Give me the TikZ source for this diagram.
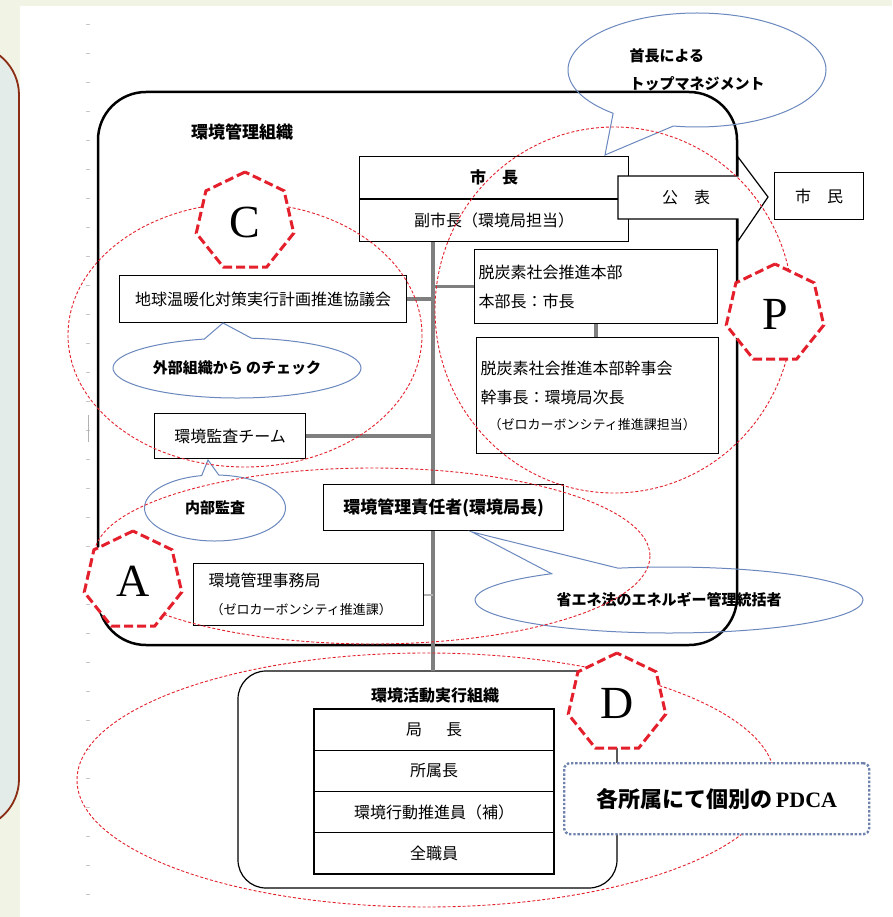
\documentclass[tikz,border=0pt]{standalone}
\usepackage{fontspec}
\setmainfont{Liberation Serif}
\newfontfamily\jp{Noto Sans CJK JP}
\usetikzlibrary{shapes.geometric,shapes.callouts}
\definecolor{pagecream}{HTML}{F1F3E5}
\definecolor{panelfill}{HTML}{E3ECE8}
\definecolor{panelrim}{HTML}{8B2C14}
\definecolor{pdcared}{HTML}{E3202C}
\definecolor{bubbleblue}{HTML}{6A88BE}
\definecolor{trunkgray}{HTML}{7F7F7F}
\definecolor{dotblue}{HTML}{6F82AE}
\tikzset{
  box/.style={draw, fill=white, line width=1.2pt, inner sep=3pt, font=\jp\fontsize{16}{29}\selectfont},
  trunk/.style={draw=trunkgray, line width=3.5pt},
  pdcaring/.style={draw=pdcared, line width=0.9pt, dash pattern=on 3pt off 2pt},
  hepta/.style={regular polygon, regular polygon sides=7, minimum size=100pt, inner sep=0pt, draw=pdcared, fill=white, line width=3pt, dash pattern=on 9pt off 4pt, font=\fontsize{46}{46}\selectfont},
  bubble/.style={ellipse callout, draw=bubbleblue, line width=1pt, inner sep=0pt, font=\jp\bfseries\fontsize{15}{28}\selectfont}
}
\begin{document}
\begin{tikzpicture}[x=1pt,y=-1pt]
\useasboundingbox (0,0) rectangle (892,917);
\fill[pagecream] (0,0) rectangle (892,917);
\fill[white] (20,6) rectangle (892,917);
\draw[panelrim, fill=panelfill, line width=1.8pt, rounded corners=50pt] (-80,45) rectangle (19,829);
\foreach \k in {0,...,30}
  \draw[black!22, line width=0.8pt] (86,{24+29*\k}) -- (90,{24+29*\k});
\draw[black!30, line width=0.6pt] (88,415) -- (88,442);

\draw[line width=2.5pt, rounded corners=48pt] (98,92) rectangle (737,645);
\node[font=\jp\bfseries\fontsize{17}{20}\selectfont] (orgtitle) at (242,132) {環境管理組織};
\draw[line width=1.2pt, rounded corners=28pt] (238,671) rectangle (617,888);
\node[font=\jp\bfseries\fontsize{16}{19}\selectfont] (acttitle) at (435,695) {環境活動実行組織};

\coordinate (trunktop) at (433,240);
\coordinate (trunkbot) at (433,671);
\draw[trunk] (trunktop) -- (trunkbot);

\node[box, minimum width=269pt, minimum height=42pt, anchor=north west] (mayor) at (359,156) {\bfseries 市　長};
\node[box, minimum width=269pt, minimum height=42pt, anchor=north] (vice) at (mayor.south) {副市長（環境局担当）};
\node[box, minimum width=287pt, minimum height=47pt, anchor=north west] (council) at (119,275) {地球温暖化対策実行計画推進協議会};
\node[box, minimum width=243pt, minimum height=74pt, anchor=north west, text width=235pt, align=left] (hq) at (474,249) {脱炭素社会推進本部\\本部長：市長};
\node[box, minimum width=242pt, minimum height=116pt, anchor=north west, text width=234pt, align=left] (exec) at (476,337) {脱炭素社会推進本部幹事会\\幹事長：環境局次長\\[-3pt]{\fontsize{13}{15}\selectfont\hspace*{8pt}（ゼロカーボンシティ推進課担当）}};
\node[box, minimum width=151pt, minimum height=45pt, anchor=north west] (audit) at (154,413) {環境監査チーム};
\node[box, minimum width=240pt, minimum height=46pt, anchor=north west, font=\jp\bfseries\fontsize{17}{20}\selectfont] (chief) at (323,484) {環境管理責任者(環境局長)};
\node[box, minimum width=230pt, minimum height=62pt, anchor=north west, text width=200pt, align=left] (office) at (193,563) {環境管理事務局\\[-1pt]{\fontsize{13}{15}\selectfont\hspace*{2pt}（ゼロカーボンシティ推進課）}};
\node[box, minimum width=89pt, minimum height=47pt, anchor=north west] (citizen) at (774,172) {市　民};
\foreach \t [count=\i] in {局\hspace{24pt}長, 所属長, 環境行動推進員（補）, 全職員}
  \node[box, minimum width=240pt, minimum height=41.25pt] (rank\i) at (434,{709+41.25*\i-20.625}) {\t};

\draw[trunk] (council.east) -- (council.east -| trunktop);
\draw[trunk] (hq.west) -- (hq.west -| trunktop);
\draw[trunk] (hq.south) -- (hq.south |- exec.north);
\draw[trunk] (audit.east) -- (audit.east -| trunktop);
\draw[trunk, draw=trunkgray!60, line width=2pt] (office.east) -- (office.east -| trunktop);

\draw[fill=white, line width=1.2pt] (618,176) -- (738,176) -- (738,157) -- (768,197) -- (738,241) -- (738,219) -- (618,219) -- cycle;
\node[font=\jp\fontsize{16}{19}\selectfont] (announce) at (686,197) {公　表};

\node[bubble, minimum width=258pt, minimum height=114pt, callout absolute pointer={(605,155)}, callout pointer arc=30, align=left] (topmgmt) at (697,70) {首長による\\トップマネジメント};
\node[bubble, minimum width=248pt, minimum height=60pt, callout absolute pointer={(223,323)}, callout pointer arc=22] (extcheck) at (237,368) {外部組織から のチェック};
\node[bubble, minimum width=141pt, minimum height=66pt, callout absolute pointer={(208,460)}, callout pointer arc=14] (inaudit) at (215,508) {内部監査};
\node[bubble, minimum width=388pt, minimum height=66pt, callout absolute pointer={(472,532)}, callout pointer arc=22] (energy) at (669,600) {省エネ法のエネルギー管理統括者};

\draw[pdcaring] (245,335) ellipse [x radius=177, y radius=132];
\draw[pdcaring] (614,310) ellipse [x radius=179, y radius=183];
\draw[pdcaring] (372,556) ellipse [x radius=278, y radius=88];
\draw[pdcaring] (426,780) ellipse [x radius=349, y radius=127];

\node[draw=dotblue, fill=white, line width=2.4pt, dash pattern=on 2.4pt off 1.8pt, rounded corners=6pt, minimum width=305pt, minimum height=71pt, anchor=north west, font=\jp\bfseries\fontsize{22}{24}\selectfont] (local) at (563,762) {各所属にて個別の\,{\rmfamily\bfseries PDCA}};

\node[hepta] (plan) at (775,314) {P};
\node[hepta] (check) at (245,222) {C};
\node[hepta] (act) at (133,581) {A};
\node[hepta] (do) at (617,703) {D};
\end{tikzpicture}
\end{document}
